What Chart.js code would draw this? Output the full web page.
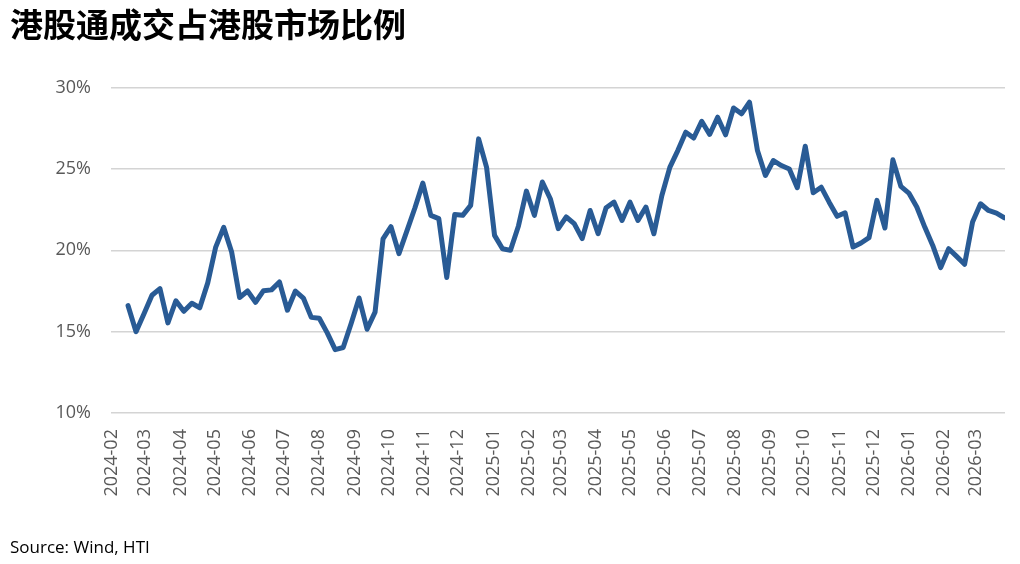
<!DOCTYPE html>
<html>
<head>
<meta charset="utf-8">
<title>港股通成交占港股市场比例</title>
<script src="https://cdn.jsdelivr.net/npm/chart.js@4/dist/chart.umd.min.js"></script>
<style>
  html, body { margin: 0; padding: 0; background: #fff; }
  #wrap { width: 1020px; height: 564px; }
</style>
</head>
<body>
<div id="wrap"><canvas id="graficoHK"></canvas></div>
<script>
// weekly share of HK market turnover from Southbound, in %
const firstWeek = '2024-02-15';
const shareValues = [
  16.6, 15.0, 16.1, 17.24, 17.65, 15.54, 16.9, 16.25, 16.75, 16.47,
  18.0, 20.2, 21.41, 19.9, 17.1, 17.5, 16.81, 17.52, 17.57, 18.06,
  16.32, 17.5, 17.07, 15.88, 15.83, 14.93, 13.9, 14.03, 15.5, 17.07,
  15.15, 16.2, 20.7, 21.45, 19.8, 21.2, 22.6, 24.13, 22.15, 21.95,
  18.33, 22.2, 22.15, 22.76, 26.85, 25.1, 20.92, 20.1, 20.0, 21.5,
  23.64, 22.15, 24.2, 23.17, 21.33, 22.05, 21.64, 20.72, 22.45, 21.02,
  22.62, 22.96, 21.84, 22.96, 21.84, 22.66, 21.02, 23.37, 25.1, 26.13,
  27.26, 26.9, 27.93, 27.12, 28.18, 27.1, 28.75, 28.39, 29.1, 26.13,
  24.6, 25.52, 25.21, 25.0, 23.85, 26.4, 23.54, 23.88, 22.96, 22.09,
  22.31, 20.2, 20.45, 20.78, 23.07, 21.37, 25.56, 23.93, 23.52, 22.66,
  21.43, 20.3, 18.94, 20.1, 19.63, 19.14, 21.74, 22.86, 22.45, 22.29,
  22.0
];
const monthLabels = [
  '2024-02', '2024-03', '2024-04', '2024-05', '2024-06', '2024-07',
  '2024-08', '2024-09', '2024-10', '2024-11', '2024-12', '2025-01',
  '2025-02', '2025-03', '2025-04', '2025-05', '2025-06', '2025-07',
  '2025-08', '2025-09', '2025-10', '2025-11', '2025-12', '2026-01',
  '2026-02', '2026-03'
];
const yTicks = [10, 15, 20, 25, 30];

const DAY = 86400000;
function toDay(s) {
  return Date.parse(s + 'T00:00:00Z') / DAY;
}
function dayToMonth(d) {
  return new Date(d * DAY).toISOString().slice(0, 7);
}

const startDay = toDay(firstWeek);
const weekDays = shareValues.map((v, i) => startDay + 7 * i);
const pontos = shareValues.map((v, i) => ({ x: weekDays[i], y: v }));

const corTexto = '#595959';
const fonteEixo = { family: '"Open Sans", "Noto Sans", sans-serif', size: 18 };

const ctx = document.getElementById('graficoHK');
const grafico = new Chart(ctx, {
  type: 'line',
  data: {
    datasets: [{
      label: '港股通成交占比',
      data: pontos,
      borderColor: '#295B95',
      borderWidth: 5,
      pointRadius: 0,
      tension: 0,
      borderJoinStyle: 'round',
      borderCapStyle: 'round',
      fill: false
    }]
  },
  options: {
    responsive: true,
    maintainAspectRatio: false,
    animation: false,
    layout: { padding: { left: 10, right: 15, top: 0, bottom: 0 } },
    plugins: {
      legend: { display: false },
      tooltip: { enabled: false },
      title: {
        display: true,
        text: '港股通成交占港股市场比例',
        align: 'start',
        color: '#000',
        font: { family: '"Noto Sans CJK SC", sans-serif', size: 33, weight: 'bold' },
        padding: { top: 5, bottom: 43 }
      },
      subtitle: {
        display: true,
        position: 'bottom',
        text: 'Source: Wind, HTI',
        align: 'start',
        color: '#000',
        font: { family: '"Open Sans", "Noto Sans", sans-serif', size: 17 },
        padding: { top: 33, bottom: 6 }
      }
    },
    scales: {
      x: {
        type: 'linear',
        min: toDay(monthLabels[0] + '-01') - 1,
        max: weekDays[weekDays.length - 1] + 0.5,
        grid: { display: false },
        border: { display: false },
        afterBuildTicks: (axis) => {
          axis.ticks = monthLabels.map(m => ({ value: toDay(m + '-01') }));
        },
        ticks: {
          autoSkip: false,
          minRotation: 90,
          maxRotation: 90,
          padding: 8,
          color: corTexto,
          font: fonteEixo,
          callback: (value) => dayToMonth(value)
        }
      },
      y: {
        min: yTicks[0],
        max: yTicks[yTicks.length - 1],
        afterBuildTicks: (axis) => {
          axis.ticks = yTicks.map(v => ({ value: v }));
        },
        afterFit: (axis) => {
          axis.width = 101;
        },
        border: { display: false },
        grid: { color: '#d4d4d4', lineWidth: 1.5, drawTicks: false },
        ticks: {
          padding: 20,
          color: corTexto,
          font: fonteEixo,
          callback: (value) => value + '%'
        }
      }
    }
  }
});
</script>
</body>
</html>
